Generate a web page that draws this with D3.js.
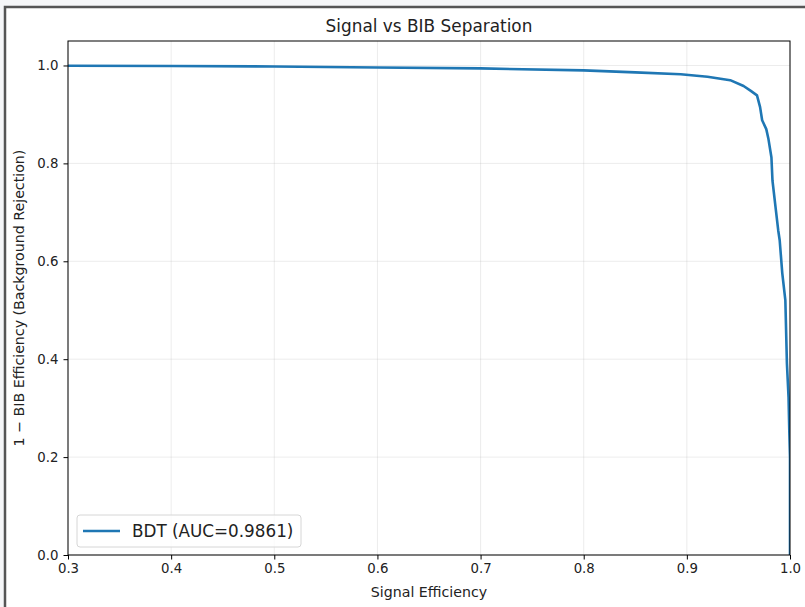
<!DOCTYPE html>
<html>
<head>
<meta charset="utf-8">
<script src="https://cdn.jsdelivr.net/npm/d3@7"></script>
<style>
  body { margin: 0; background: #f5f6f8; }
  svg { display: block; font-family: "DejaVu Sans", sans-serif; }
</style>
</head>
<body>
<div id="chart"></div>
<script>
// ROC curve points: signal efficiency / 1 - BIB efficiency
const sigEff = [0.0, 0.3, 0.4, 0.5, 0.6, 0.7, 0.8, 0.85, 0.894, 0.92, 0.942, 0.955, 0.962, 0.968,
  0.971, 0.973, 0.977, 0.979, 0.982, 0.983, 0.986, 0.9886, 0.990, 0.9925, 0.9955, 0.997, 0.9986, 0.9993, 1.0, 1.0];
const bkgRej = [1.0, 0.9995, 0.999, 0.998, 0.996, 0.994, 0.990, 0.986, 0.982, 0.977, 0.970, 0.958, 0.948, 0.939,
  0.915, 0.888, 0.870, 0.851, 0.812, 0.765, 0.710, 0.663, 0.643, 0.576, 0.520, 0.392, 0.322, 0.255, 0.20, 0.0];
const xTicks = [0.3, 0.4, 0.5, 0.6, 0.7, 0.8, 0.9, 1.0];
const yTicks = [0.0, 0.2, 0.4, 0.6, 0.8, 1.0];
const seriesName = 'BDT (AUC=0.9861)';

const W = 805, H = 607;
const margin = {top: 41, right: 15, bottom: 52, left: 68};
const width = 790 - margin.left, height = 555 - margin.top;

const svg = d3.select('#chart').append('svg')
  .attr('width', W)
  .attr('height', H);

// figure frame
svg.append('rect')
  .attr('x', 5).attr('y', 7)
  .attr('width', W + 10).attr('height', H + 10)
  .attr('fill', '#fff')
  .attr('stroke', '#555').attr('stroke-width', 2.5);

const g = svg.append('g')
  .attr('transform', `translate(${margin.left},${margin.top})`);

const x = d3.scaleLinear().domain([0.3, 1.0]).range([0, width]);
const y = d3.scaleLinear().domain([0, 1.05]).range([height, 0]);

// grid
g.append('g').selectAll('line').data(xTicks).join('line')
  .attr('x1', d => x(d)).attr('x2', d => x(d))
  .attr('y1', 0).attr('y2', height)
  .attr('stroke', '#b0b0b0').attr('stroke-opacity', 0.3).attr('stroke-width', 0.8);
g.append('g').selectAll('line').data(yTicks).join('line')
  .attr('x1', 0).attr('x2', width)
  .attr('y1', d => y(d)).attr('y2', d => y(d))
  .attr('stroke', '#b0b0b0').attr('stroke-opacity', 0.3).attr('stroke-width', 0.8);

g.append('clipPath').attr('id', 'clip')
  .append('rect').attr('width', width).attr('height', height);

const line = d3.line()
  .x((d, i) => x(sigEff[i]))
  .y((d, i) => y(bkgRej[i]));

g.append('path')
  .datum(bkgRej)
  .attr('clip-path', 'url(#clip)')
  .attr('d', line)
  .attr('fill', 'none')
  .attr('stroke', '#1f77b4')
  .attr('stroke-width', 2.6)
  .attr('stroke-linejoin', 'round');

// frame of the axes
g.append('rect')
  .attr('width', width).attr('height', height)
  .attr('fill', 'none').attr('stroke', '#000').attr('stroke-width', 1);

const xAxis = g.append('g')
  .attr('transform', `translate(0,${height})`)
  .call(d3.axisBottom(x).tickValues(xTicks).tickFormat(d3.format('.1f')).tickSize(4.5).tickPadding(4));
const yAxis = g.append('g')
  .call(d3.axisLeft(y).tickValues(yTicks).tickFormat(d3.format('.1f')).tickSize(4.5).tickPadding(5));
[xAxis, yAxis].forEach(a => {
  a.select('.domain').remove();
  a.selectAll('text').attr('font-size', 13.3).attr('fill', '#222').attr('font-family', '"DejaVu Sans", sans-serif');
  a.selectAll('line').attr('stroke', '#000');
});

// legend
const lg = g.append('g').attr('transform', `translate(${77 - margin.left},${515 - margin.top})`);
lg.append('rect')
  .attr('width', 224).attr('height', 32).attr('rx', 3)
  .attr('fill', '#fff').attr('fill-opacity', 0.8)
  .attr('stroke', '#d6d6d6');
lg.append('line')
  .attr('x1', 6).attr('x2', 43).attr('y1', 16).attr('y2', 16)
  .attr('stroke', '#1f77b4').attr('stroke-width', 2.6);
lg.append('text')
  .attr('x', 55).attr('y', 22)
  .attr('font-size', 16.8).attr('fill', '#222')
  .text(seriesName);

// title and labels
svg.append('text')
  .attr('x', margin.left + width / 2).attr('y', 32)
  .attr('text-anchor', 'middle').attr('font-size', 16.9).attr('fill', '#222')
  .text('Signal vs BIB Separation');
svg.append('text')
  .attr('x', margin.left + width / 2).attr('y', 597)
  .attr('text-anchor', 'middle').attr('font-size', 14.2).attr('fill', '#222')
  .text('Signal Efficiency');
svg.append('text')
  .attr('transform', `translate(24,298) rotate(-90)`)
  .attr('text-anchor', 'middle').attr('font-size', 14.2).attr('fill', '#222')
  .text('1 − BIB Efficiency (Background Rejection)');
</script>
</body>
</html>
